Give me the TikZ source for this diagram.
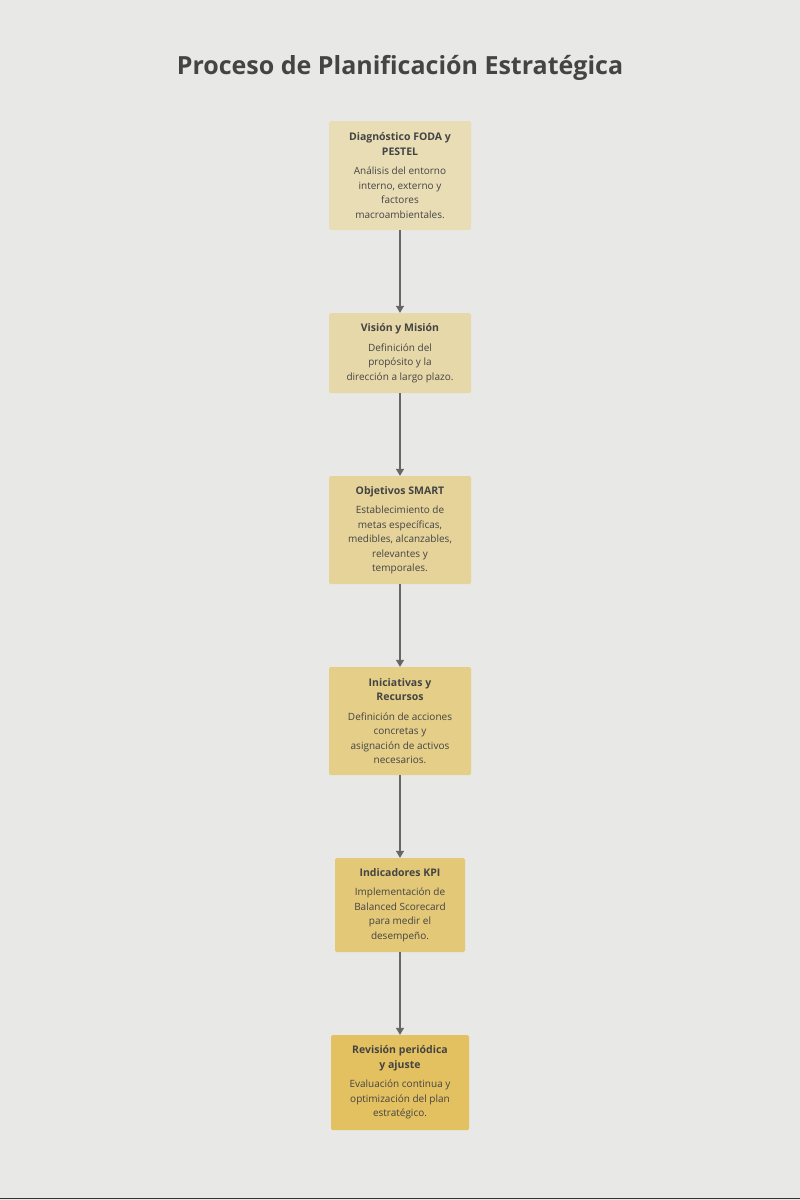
\documentclass[tikz,border=0pt]{standalone}
\usepackage{fontspec}
\setmainfont{Open Sans}
\usetikzlibrary{arrows.meta}
\definecolor{bg}{HTML}{E8E8E6}
\definecolor{txt}{HTML}{444444}
\definecolor{cA}{HTML}{E8DDB5}
\definecolor{cB}{HTML}{E6D8A8}
\definecolor{cC}{HTML}{E5D39A}
\definecolor{cD}{HTML}{E4CE88}
\definecolor{cE}{HTML}{E3C877}
\definecolor{cF}{HTML}{E3C060}
\tikzset{
  stepbox/.style={rounded corners=1.5pt, inner sep=0pt, align=center, text=txt, font=\fontsize{10}{14.5}\selectfont},
  conn/.style={draw=black!60, line width=1.3pt, -{Triangle[length=7pt,width=8pt]}},
}
\newcommand{\hb}{\bfseries\fontsize{10.5}{15}\selectfont}
\newcommand{\hn}{\mdseries\fontsize{10}{14.5}\selectfont}
\begin{document}
\begin{tikzpicture}[x=1pt,y=-1pt]
\fill[bg] (0,0) rectangle (800,1200);
\useasboundingbox (0,0) rectangle (800,1200);
\draw[black!80, line width=1.5pt] (0,1198.5) -- (800,1198.5);
\node[text=txt, font=\bfseries\fontsize{25}{30}\selectfont] (title) at (400,68) {Proceso de Planificación Estratégica};
\node[stepbox, fill=cA, minimum width=142, minimum height=109] (n1) at (400,175.5) {\hb Diagnóstico FODA y\\\hb PESTEL\\[5pt]\hn Análisis del entorno\\\hn interno, externo y\\\hn factores\\\hn macroambientales.};
\node[stepbox, fill=cB, minimum width=142, minimum height=80] (n2) at (400,353) {\hb Visión y Misión\\[5pt]\hn Definición del\\\hn propósito y la\\\hn dirección a largo plazo.};
\node[stepbox, fill=cC, minimum width=142, minimum height=108] (n3) at (400,530) {\hb Objetivos SMART\\[5pt]\hn Establecimiento de\\\hn metas específicas,\\\hn medibles, alcanzables,\\\hn relevantes y\\\hn temporales.};
\node[stepbox, fill=cD, minimum width=142, minimum height=108] (n4) at (400,721) {\hb Iniciativas y\\\hb Recursos\\[5pt]\hn Definición de acciones\\\hn concretas y\\\hn asignación de activos\\\hn necesarios.};
\node[stepbox, fill=cE, minimum width=130, minimum height=94] (n5) at (400,905) {\hb Indicadores KPI\\[5pt]\hn Implementación de\\\hn Balanced Scorecard\\\hn para medir el\\\hn desempeño.};
\node[stepbox, fill=cF, minimum width=138, minimum height=95] (n6) at (400,1082.5) {\hb Revisión periódica\\\hb y ajuste\\[5pt]\hn Evaluación continua y\\\hn optimización del plan\\\hn estratégico.};
\draw[conn] (n1) -- (n2);
\draw[conn] (n2) -- (n3);
\draw[conn] (n3) -- (n4);
\draw[conn] (n4) -- (n5);
\draw[conn] (n5) -- (n6);
\end{tikzpicture}
\end{document}
